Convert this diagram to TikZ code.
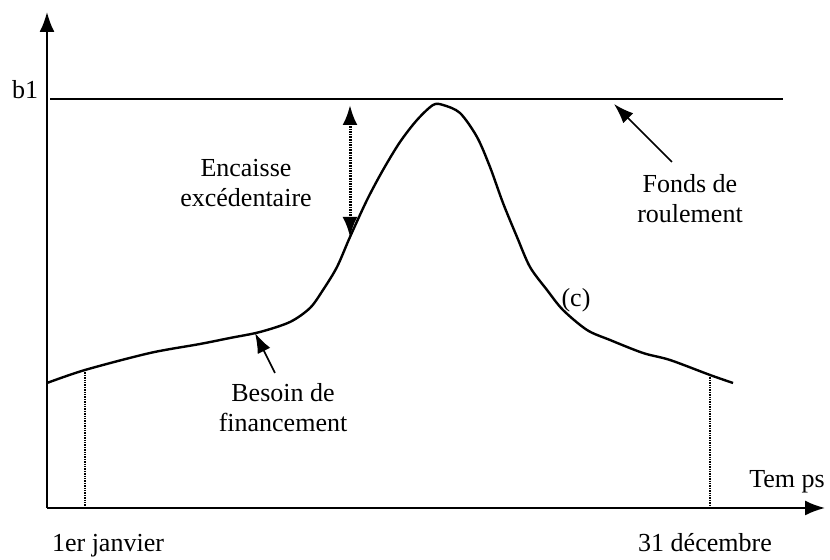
\documentclass[tikz,border=0pt]{standalone}
\usepackage{fontspec}
\setmainfont{Liberation Serif}
\usetikzlibrary{arrows.meta}

\begin{document}
\begin{tikzpicture}[x=0.5pt, y=0.5pt,
	lbl/.style={font=\fontsize{13}{15}\selectfont, align=center, anchor=base, inner sep=0pt},
	axis/.style={line width=1pt, -{Latex[length=10pt, width=7.5pt]}},
	pointer/.style={line width=0.8pt, -{Latex[length=10pt, width=7pt]}},
	guide/.style={line width=1pt, dash pattern=on 0.7pt off 0.5pt}]
	\useasboundingbox (0,0) rectangle (830,560);
	\coordinate (o) at (47,52);
	\coordinate (ytop) at (47,548);
	\coordinate (xend) at (825,52);
	\coordinate (b1l) at (50,461);
	\coordinate (b1r) at (783,461);
	\coordinate (jan) at (85,190);
	\coordinate (janx) at (85,54);
	\coordinate (dec) at (710,185);
	\coordinate (decx) at (710,52);
	\coordinate (gaptop) at (350,455);
	\coordinate (gapbot) at (350,323);
	\coordinate (fr) at (614,456);
	\coordinate (frtail) at (672,398);
	\coordinate (bf) at (255,227);
	\coordinate (bftail) at (275,187);

	\draw[axis] (o) -- (ytop);
	\draw[axis] (o) -- (xend);
	\draw[line width=0.8pt] (b1l) -- (b1r);
	\draw[line width=1.2pt] plot[smooth, tension=0.5] coordinates {(47,177) (jan) (150,207) (200,216) (230,222) (260,228) (290,238) (310,252) (323,270) (337,293) (gapbot) (367,360) (383,390) (400,418) (417,440) (433,455) (443,455) (460,447) (477,423) (490,393) (503,357) (517,323) (530,293) (547,270) (563,250) (587,230) (610,220) (643,207) (670,200) (dec) (733,177)};
	\draw[guide] (jan) -- (janx);
	\draw[guide] (dec) -- (decx);
	\draw[line width=1.5pt, dash pattern=on 0.8pt off 0.5pt, {Latex[length=10pt, width=7.5pt]}-{Latex[length=10pt, width=7.5pt]}] (gaptop) -- (gapbot);
	\draw[pointer] (frtail) -- (fr);
	\draw[pointer] (bftail) -- (bf);

	\node[lbl] (b1) at (25,461) {b1};
	\node[lbl] (temps) at (787,72) {Tem ps};
	\node[lbl] (jant) at (108,8) {1er janvier};
	\node[lbl] (dect) at (705,8) {31 décembre};
	\node[lbl] (c) at (576,253) {(c)};
	\node[lbl] (enc) at (246,353) {Encaisse\\excédentaire};
	\node[lbl] (fonds) at (690,337) {Fonds de\\roulement};
	\node[lbl] (besoin) at (283,128) {Besoin de\\financement};
\end{tikzpicture}
\end{document}
